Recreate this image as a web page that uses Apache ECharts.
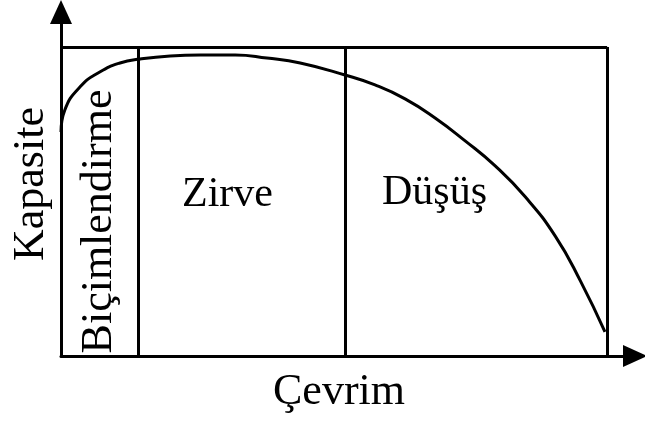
<!DOCTYPE html>
<html>
<head>
<meta charset="utf-8">
<script src="https://cdn.jsdelivr.net/npm/echarts@6/dist/echarts.min.js"></script>
<style>
  html, body { margin: 0; padding: 0; background: #fff; }
  #chart { width: 645px; height: 423px; }
</style>
</head>
<body>
<div id="chart"></div>
<script>
// capacity over cycle life (cycle and capacity in % of box)
const cycles = [0, 0.7, 3.5, 7.1, 10.8, 14.5, 20.0, 25.5, 31.9, 37.7, 43.8, 52.0, 57.5, 63.0, 68.5, 74.0, 79.5, 85.0, 90.5, 95.1, 99.6];
const capacity = [72.5, 79.6, 87.1, 91.9, 94.8, 96.1, 97.1, 97.4, 97.4, 96.4, 94.8, 90.9, 87.7, 83.2, 77.0, 69.6, 61.5, 51.5, 38.8, 24.3, 7.8];

// stage boundaries along the cycle axis
const stageNames = ['Biçimlendirme', 'Zirve', 'Düşüş'];
const stageBounds = [0, 14.1, 52.0, 100];
const boxTop = 100;

const xMax = 105.1;
const yMax = 111.3;

const font = '"Liberation Serif", "Times New Roman", serif';
const ink = '#000';

const chart = echarts.init(document.getElementById('chart'));

const lineStyle = { color: ink, width: 3, type: 'solid' };

// box: top edge, stage dividers and right edge
const boxLines = [
  [{ coord: [stageBounds[0], boxTop] }, { coord: [stageBounds[3], boxTop] }],
  ...stageBounds.slice(1).map((b) => [{ coord: [b, 0] }, { coord: [b, boxTop] }]),
];

const stageLabels = [
  { rotate: 90, position: 'inside', offset: [-20, 0], fontSize: 44 },
  { position: 'insideLeft', distance: 44, offset: [0, -6], fontSize: 42 },
  { position: 'insideLeft', distance: 37, offset: [0, -8], fontSize: 42 },
];

const stageAreas = stageNames.map((name, i) => [
  {
    name,
    coord: [stageBounds[i], 0],
    label: Object.assign({ show: true, color: ink, fontFamily: font }, stageLabels[i]),
  },
  { coord: [stageBounds[i + 1], boxTop] },
]);

chart.setOption({
  animation: false,
  backgroundColor: '#fff',
  grid: { left: 61, right: 10, top: 12, bottom: 67 },
  xAxis: {
    type: 'value',
    min: 0,
    max: xMax,
    name: 'Çevrim',
    nameLocation: 'middle',
    nameGap: 14,
    nameTextStyle: { color: ink, fontFamily: font, fontSize: 44, padding: [0, 18, 0, 0] },
    axisLine: { show: true, symbol: ['none', 'triangle'], symbolSize: [22, 24], lineStyle },
    axisTick: { show: false },
    axisLabel: { show: false },
    splitLine: { show: false },
  },
  yAxis: {
    type: 'value',
    min: 0,
    max: yMax,
    name: 'Kapasite',
    nameLocation: 'middle',
    nameRotate: 90,
    nameGap: 8,
    nameTextStyle: { color: ink, fontFamily: font, fontSize: 44 },
    axisLine: { show: true, symbol: ['none', 'triangle'], symbolSize: [22, 24], lineStyle },
    axisTick: { show: false },
    axisLabel: { show: false },
    splitLine: { show: false },
  },
  series: [
    {
      type: 'line',
      data: cycles.map((c, i) => [c, capacity[i]]),
      smooth: 0.5,
      showSymbol: false,
      lineStyle: { color: ink, width: 3 },
      silent: true,
      markLine: {
        silent: true,
        symbol: ['none', 'none'],
        label: { show: false },
        lineStyle,
        data: boxLines,
      },
      markArea: {
        silent: true,
        itemStyle: { color: 'rgba(0,0,0,0)' },
        data: stageAreas,
      },
    },
  ],
});
</script>
</body>
</html>
